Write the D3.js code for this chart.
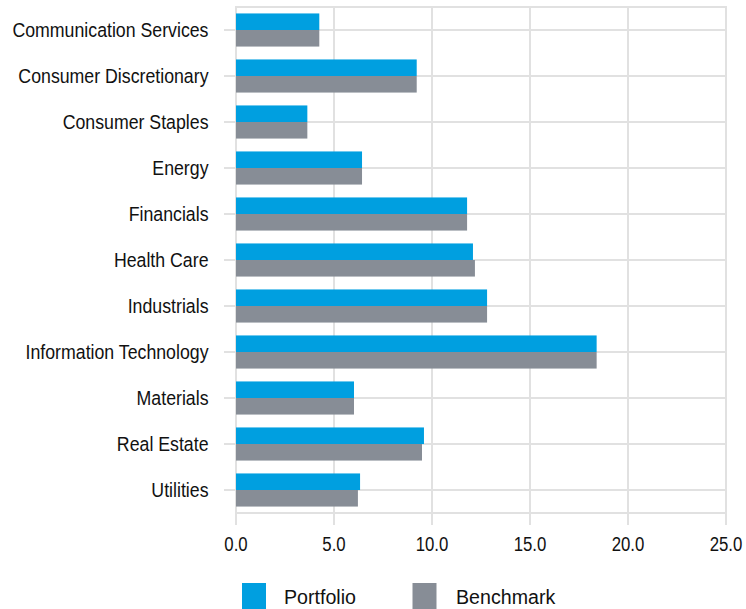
<!DOCTYPE html>
<html>
<head>
<meta charset="utf-8">
<script src="https://cdn.jsdelivr.net/npm/d3@7"></script>
<style>
  html, body { margin: 0; padding: 0; background: #fff; }
  svg { display: block; font-family: "Liberation Sans", Arial, sans-serif; }
</style>
</head>
<body>
<svg id="chart" width="746" height="609"></svg>
<script>
const categories = ["Communication Services", "Consumer Discretionary", "Consumer Staples", "Energy", "Financials", "Health Care", "Industrials", "Information Technology", "Materials", "Real Estate", "Utilities"];
const seriesNames = ["Portfolio", "Benchmark"];
const portfolio = [4.25, 9.22, 3.64, 6.43, 11.79, 12.09, 12.81, 18.40, 6.02, 9.59, 6.33];
const benchmark = [4.25, 9.22, 3.64, 6.43, 11.79, 12.19, 12.81, 18.40, 6.02, 9.49, 6.22];
const xTicks = [0, 5, 10, 15, 20, 25];
const colors = ["#009fe0", "#878d96"];

(function () {
const svg = d3.select("#chart");
const mLeft = 236, mRight = 726, mTop = 7, mBottom = 513;
const gridColor = "#e1e1e1";

const x = d3.scaleLinear().domain([0, 25]).range([mLeft, mRight]);
const y = d3.scaleBand().domain(categories).range([mTop, mBottom]).paddingInner(0.28).paddingOuter(0.14);
const ySub = d3.scaleBand().domain(seriesNames).range([0, y.bandwidth()]);

// frame
svg.append("rect").attr("x", mLeft).attr("y", mTop).attr("width", mRight - mLeft).attr("height", mBottom - mTop)
  .attr("fill", "none").attr("stroke", gridColor).attr("stroke-width", 2);

// vertical gridlines + ticks
svg.append("g").selectAll("line").data(xTicks).join("line")
  .attr("x1", d => x(d)).attr("x2", d => x(d))
  .attr("y1", mTop).attr("y2", mBottom + 12)
  .attr("stroke", gridColor).attr("stroke-width", 2);

// horizontal gridlines at category centers
svg.append("g").selectAll("line").data(categories).join("line")
  .attr("x1", mLeft - 12).attr("x2", mRight)
  .attr("y1", d => y(d) + y.bandwidth() / 2).attr("y2", d => y(d) + y.bandwidth() / 2)
  .attr("stroke", gridColor).attr("stroke-width", 2);

// bars
const data = categories.map((c, i) => ({ c, vals: [portfolio[i], benchmark[i]] }));
const groups = svg.append("g").selectAll("g").data(data).join("g")
  .attr("transform", d => `translate(0,${y(d.c)})`);
groups.selectAll("rect").data(d => d.vals.map((v, j) => ({ v, s: seriesNames[j], j }))).join("rect")
  .attr("x", x(0))
  .attr("y", d => ySub(d.s))
  .attr("width", d => x(d.v) - x(0))
  .attr("height", ySub.bandwidth())
  .attr("fill", d => colors[d.j]);

// category labels
const labelX = 208.5;
svg.append("g").selectAll("text").data(categories).join("text")
  .attr("transform", d => `translate(${labelX},${y(d) + y.bandwidth() / 2 + 6.5}) scale(0.91,1)`)
  .attr("text-anchor", "end")
  .attr("font-size", "19.5px")
  .attr("fill", "#111")
  .text(d => d);

// x tick labels
svg.append("g").selectAll("text").data(xTicks).join("text")
  .attr("transform", d => `translate(${x(d)},551) scale(0.8,1)`)
  .attr("text-anchor", "middle")
  .attr("font-size", "21px")
  .attr("fill", "#111")
  .text(d => d3.format(".1f")(d));

// legend
const legendItems = [
  { name: seriesNames[0], color: colors[0], sx: 242, tx: 284 },
  { name: seriesNames[1], color: colors[1], sx: 412.5, tx: 456 }
];
const lg = svg.append("g");
lg.selectAll("rect").data(legendItems).join("rect")
  .attr("x", d => d.sx).attr("y", 583).attr("width", 24).attr("height", 30)
  .attr("fill", d => d.color);
lg.selectAll("text").data(legendItems).join("text")
  .attr("transform", d => `translate(${d.tx},604) scale(0.935,1)`)
  .attr("font-size", "21px")
  .attr("fill", "#111")
  .text(d => d.name);
})();
</script>
</body>
</html>
